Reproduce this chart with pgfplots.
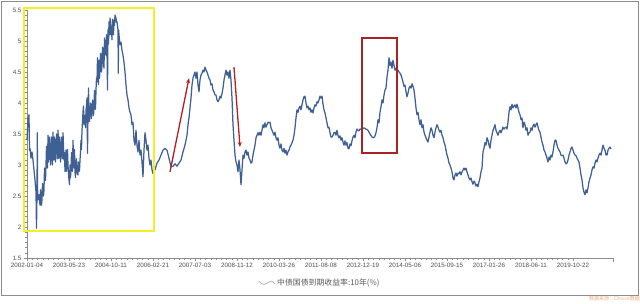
\documentclass[border=0pt]{standalone}
\usepackage{fontspec}
\setmainfont{Liberation Sans}
\newfontfamily\cjk{Noto Sans CJK SC}
\usepackage{pgfplots}
\pgfplotsset{compat=1.18}
\usetikzlibrary{arrows.meta}
\definecolor{serie}{RGB}{62,96,146}
\definecolor{ybox}{RGB}{244,238,40}
\definecolor{rbox}{RGB}{170,34,38}
\definecolor{rarrow}{RGB}{180,30,36}
\definecolor{wm}{RGB}{240,170,120}
\pgfplotstableread{
x y
27 3.40
28 3.73
29 3.81
29.5 3.24
30 3.27
31 3.11
32 3.21
33 3.08
34 2.92
35 2.76
36 2.56
36.5 1.98
37 2.52
37.3 3.52
37.6 2.60
38 2.44
39 2.52
40 2.35
40.5 2.60
41 2.50
41.5 2.35
42 2.44
42.5 2.70
43 2.68
43.5 2.50
44 2.60
44.5 2.95
45 2.89
45.5 2.75
46 3.00
46.5 3.30
47 3.24
47.5 2.95
48 3.48
48.5 3.05
49 3.16
49.5 3.45
50 3.32
50.5 3.00
51 3.08
51.5 3.45
52 3.24
52.5 3.00
53 3.53
53.5 3.25
54 3.08
54.5 3.45
55 3.32
55.5 3.05
56 3.21
56.5 3.50
57 3.40
57.5 3.10
58 3.56
58.5 3.35
59 3.11
59.5 3.45
60 3.32
60.5 3.05
61 3.16
61.5 3.45
62 3.40
62.5 3.10
63 3.52
63.5 3.30
64 3.08
64.5 3.20
65 2.89
65.5 3.00
66 3.24
66.5 2.90
67 3.05
67.5 3.25
68 3.00
68.5 2.85
69 2.76
69.5 2.68
70 3.00
70.5 2.80
71 2.92
71.5 3.20
72 3.08
72.5 2.90
73 3.40
73.5 3.10
74 2.95
74.5 3.25
75 2.89
75.5 2.80
76 3.00
76.5 3.10
77 2.92
77.5 2.85
78 2.84
78.5 3.05
79 2.95
79.5 2.90
80 3.08
80.5 3.20
81 3.40
81.5 3.25
82 3.56
82.5 3.70
83 3.85
83.5 3.95
84 3.65
84.5 3.80
85 3.76
85.5 3.60
86 3.89
86.5 3.95
87 4.08
87.5 3.19
88 3.81
88.5 4.24
89 3.85
89.5 3.70
90 3.81
90.5 4.00
91 3.92
91.5 3.75
92 3.85
92.5 4.05
93 3.97
93.5 3.80
94 3.92
94.5 4.20
95 4.05
95.5 3.90
96 4.21
96.5 4.40
97 4.34
97.5 4.73
98 4.45
98.5 4.30
99 4.69
99.5 4.40
100 4.53
100.5 4.80
101 4.77
101.5 4.50
102 4.61
102.5 4.90
103 4.85
103.5 4.65
104 4.56
104.5 5.05
105 4.94
105.5 4.80
106 4.77
106.5 5.10
107 4.89
107.5 4.21
108 5.18
108.5 4.95
109 5.31
109.5 5.10
110 5.37
110.5 5.30
111 5.10
111.5 5.20
112 5.02
112.5 5.35
113 5.26
113.5 5.10
114 5.34
114.5 5.25
115 5.42
116 5.37
116.5 5.30
117 5.31
118 5.18
118.3 4.48
118.6 5.18
119 5.10
120 4.94
121 4.98
122 4.85
123 4.77
124 4.66
125 4.50
126 4.29
127 4.13
128 4.05
129 3.92
130 3.85
131 3.81
132 3.65
133 3.69
134 3.40
135 3.32
136 3.56
137 3.32
138 3.21
139 3.40
140 3.16
141 3.24
142 3.05
143 2.81
144 3.24
145 3.52
146 3.40
147 3.24
148 3.32
149 3.11
150 3.00
151 3.08
152 2.92
153 2.86
154 2.95
155 2.92
157 3.03
159 3.08
161 3.16
163 3.24
165 3.27
167 3.24
169 3.11
171 2.97
173 2.98
175 3.02
177 2.98
179 3.03
181 3.08
183 3.21
185 3.32
187 3.48
188 3.65
189 3.76
190 3.92
191 4.08
192 4.29
193 4.40
194 4.45
195 4.50
196 4.40
197 4.50
198 4.29
199 4.18
200 4.37
201 4.45
202 4.48
203 4.53
204 4.50
205 4.58
206 4.53
207 4.50
208 4.45
209 4.40
210 4.37
211 4.29
212 4.31
213 4.21
214 4.18
215 4.13
216 4.13
217 4.05
218 4.02
219 4.05
220 4.11
221 4.08
222 4.15
223 4.24
224 4.37
225 4.45
226 4.53
227 4.45
228 4.50
229 4.40
230 4.53
231 4.37
232 4.08
233 3.65
234 3.40
235 3.16
236 3.05
237 3.00
238 2.89
239 3.08
240 2.92
241 2.68
242 2.92
243 3.16
244 3.11
245 3.21
246 3.24
247 3.16
248 3.21
249 3.11
250 3.08
251 3.03
252 3.05
253 3.16
254 3.24
255 3.32
256 3.44
257 3.48
258 3.52
259 3.48
260 3.53
261 3.48
262 3.56
263 3.65
264 3.60
265 3.68
266 3.61
267 3.65
268 3.69
269 3.68
270 3.69
271 3.60
272 3.56
273 3.52
274 3.48
275 3.53
276 3.44
277 3.40
278 3.44
279 3.32
280 3.27
281 3.34
282 3.24
283 3.21
284 3.27
285 3.19
286 3.24
287 3.16
288 3.21
289 3.24
290 3.29
291 3.32
292 3.36
293 3.40
294 3.48
295 3.60
296 3.76
297 3.89
298 3.85
299 3.92
300 3.95
301 3.89
302 3.97
303 4.05
304 4.10
305 4.11
306 4.00
307 3.92
308 3.95
309 3.89
310 3.92
311 3.85
312 3.89
313 3.84
314 3.92
315 3.97
316 3.95
317 4.02
318 4.00
319 4.05
320 4.11
321 4.08
322 4.11
323 3.98
324 3.89
325 3.84
326 3.76
327 3.68
328 3.60
329 3.61
330 3.52
331 3.45
332 3.45
333 3.48
334 3.52
335 3.53
336 3.48
337 3.56
338 3.48
339 3.44
340 3.47
341 3.40
342 3.44
343 3.37
344 3.32
345 3.39
346 3.32
347 3.36
348 3.27
349 3.26
350 3.34
351 3.31
352 3.39
353 3.45
354 3.48
355 3.44
356 3.53
357 3.58
358 3.56
359 3.55
360 3.58
362 3.58
364 3.60
366 3.58
368 3.56
370 3.50
372 3.45
374 3.44
375 3.47
376 3.52
377 3.60
378 3.73
379 3.68
380 3.85
381 3.94
382 4.05
383 4.00
384 4.13
385 4.21
386 4.24
387 4.42
388 4.53
389 4.73
390 4.60
391 4.66
392 4.56
393 4.69
394 4.61
395 4.53
396 4.56
397 4.50
398 4.53
399 4.50
400 4.48
401 4.45
402 4.40
403 4.34
404 4.27
405 4.29
406 4.18
407 4.10
408 4.16
409 4.24
410 4.27
411 4.24
412 4.31
413 4.27
414 4.21
415 4.08
416 3.92
417 3.81
418 3.85
419 3.73
420 3.65
421 3.73
422 3.60
423 3.65
424 3.53
425 3.48
426 3.44
427 3.40
428 3.37
429 3.45
430 3.53
431 3.60
432 3.56
433 3.48
434 3.44
435 3.53
436 3.60
437 3.65
438 3.61
439 3.56
440 3.53
441 3.56
442 3.48
443 3.44
444 3.37
445 3.32
446 3.24
447 3.16
448 3.11
449 3.03
450 3.00
451 2.95
452 2.89
453 2.79
454 2.76
455 2.84
456 2.87
457 2.82
458 2.87
459 2.86
460 2.89
461 2.84
462 2.89
463 2.92
464 2.95
465 2.92
466 2.95
467 2.89
468 2.84
469 2.79
470 2.76
471 2.79
472 2.73
473 2.69
474 2.74
475 2.71
476 2.66
477 2.69
478 2.65
479 2.73
480 2.79
481 2.89
482 2.95
483 3.21
484 3.27
485 3.36
486 3.32
487 3.44
488 3.40
489 3.32
490 3.27
491 3.40
492 3.48
493 3.56
494 3.60
495 3.65
496 3.56
497 3.52
498 3.48
499 3.53
500 3.56
501 3.52
502 3.56
503 3.61
504 3.58
505 3.60
506 3.61
507 3.58
508 3.69
509 3.85
510 3.94
511 3.89
512 3.98
513 3.92
514 3.95
515 3.97
516 3.92
517 3.98
518 3.92
519 3.85
520 3.81
521 3.73
522 3.76
523 3.60
524 3.69
525 3.65
526 3.56
527 3.60
528 3.48
529 3.52
530 3.53
531 3.60
532 3.56
533 3.63
534 3.66
535 3.61
536 3.65
537 3.68
538 3.61
539 3.56
540 3.53
541 3.45
542 3.37
543 3.32
544 3.24
545 3.21
546 3.16
547 3.11
548 3.05
549 3.13
550 3.08
551 3.16
552 3.13
553 3.21
554 3.32
555 3.40
556 3.40
557 3.32
558 3.27
559 3.24
560 3.21
561 3.16
562 3.15
563 3.16
564 3.11
565 3.05
566 3.02
567 3.03
568 3.08
569 3.16
570 3.21
571 3.27
572 3.29
573 3.24
574 3.19
575 3.16
576 3.15
577 3.11
578 3.08
579 3.05
580 2.95
581 2.84
582 2.76
583 2.63
584 2.56
585 2.52
586 2.60
587 2.55
588 2.63
589 2.73
590 2.79
591 2.84
592 2.92
593 2.97
594 2.95
595 3.03
596 3.08
597 3.05
598 3.11
599 3.16
600 3.19
601 3.16
602 3.24
603 3.32
604 3.27
605 3.24
606 3.16
607 3.16
608 3.24
609 3.27
610 3.29
611 3.26
}\yielddata
\begin{document}
\begin{tikzpicture}
\begin{axis}[
  x=1bp, y=62bp,
  xmin=27, xmax=613, ymin=1.5, ymax=5.5,
  axis x line*=bottom, axis y line*=left,
  axis line style={-, draw=black!45, line width=0.5pt},
  clip=false,
  tick align=outside, tick pos=left,
  major tick length=3bp, minor tick length=2bp,
  tick style={draw=black!45, line width=0.4pt},
  minor x tick num=7, minor y tick num=5,
  xtick={27,69,...,573},
  xticklabels={2002-01-04,2003-05-23,2004-10-11,2006-02-21,2007-07-03,2008-11-12,2010-03-26,2011-08-08,2012-12-19,2014-05-06,2015-09-15,2017-01-26,2018-06-11,2019-10-22},
  extra x ticks={613}, extra x tick labels={},
  extra x tick style={major tick length=4bp},
  ytick={1.5,2,2.5,3,3.5,4,4.5,5,5.5},
  yticklabels={1.5,2,2.5,3,3.5,4,4.5,5,5.5},
  tick label style={font=\fontsize{6.3}{7}\selectfont, text=black!70},
  xticklabel style={yshift=1bp},
  yticklabel style={xshift=1bp},
  legend style={at={(0.5,-0.1)}, anchor=center, draw=none, fill=none,
    font=\cjk\fontsize{7.9}{9}\selectfont, text=black!65},
  legend image code/.code={\draw[black!35, line width=0.7pt] (-1bp,1.5bp) .. controls (3bp,-3bp) and (6bp,-2bp) .. (8bp,0bp) .. controls (10bp,2bp) and (12bp,3bp) .. (15bp,-1bp);},
]
\addplot[serie, line width=1.25pt, line join=round] table[x=x, y=y] {\yielddata};
\addlegendentry{中债国债到期收益率:10年(\%)}
\draw[ybox, line width=1.8bp] (axis cs:24,5.53) rectangle (axis cs:154,1.935);
\draw[rbox, line width=1.8bp] (axis cs:362,5.05) rectangle (axis cs:397,3.194);
\draw[rarrow, line width=1.3bp, -{Stealth[length=5bp,width=4bp]}] (axis cs:170,2.89) -- (axis cs:189,4.40);
\draw[rarrow, line width=1.3bp, -{Stealth[length=5bp,width=4bp]}] (axis cs:234,4.58) -- (axis cs:240,3.29);
\end{axis}
\draw[black!45, line width=0.8pt] (-26bp,257bp) rectangle (611bp,-37bp);
\node[anchor=east, inner sep=0pt, text=wm, font=\cjk\fontsize{5}{6}\selectfont] at (613bp,-41bp) {数据来源：Choice数据};
\path (-27bp,-46bp) rectangle (613bp,258bp);
\end{tikzpicture}
\end{document}
